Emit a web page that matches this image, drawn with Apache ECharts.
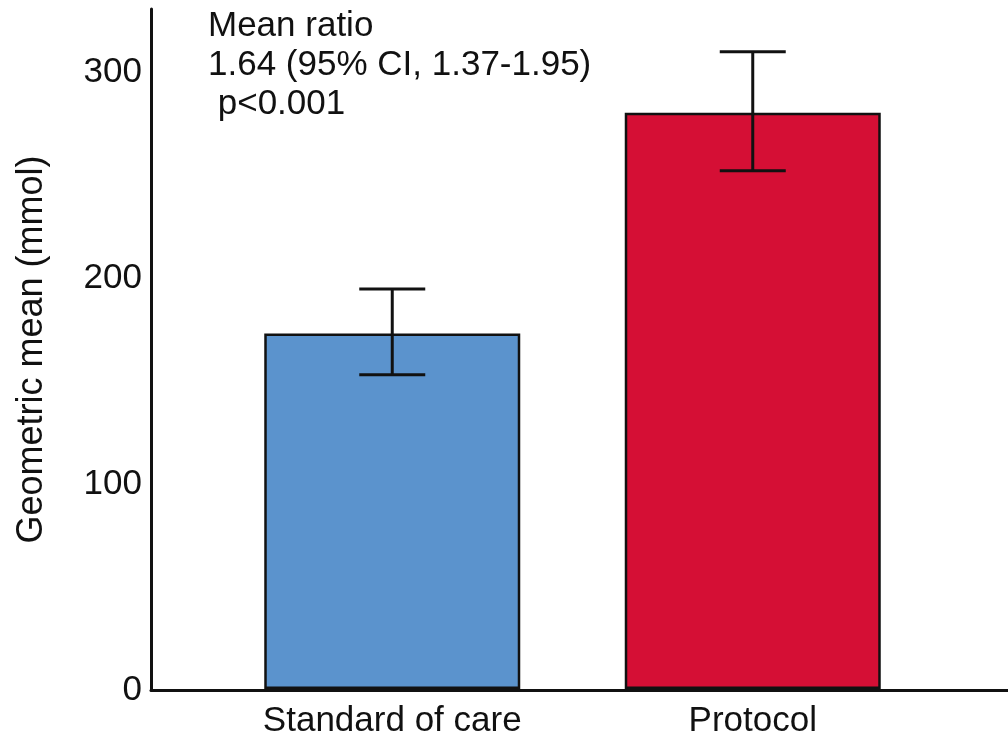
<html>
  <head>
    <meta charset="UTF-8" />
    <script src="https://cdn.jsdelivr.net/npm/echarts@6/dist/echarts.min.js"></script>
    <title>geometric mean</title>
    <style>
      html, body { margin: 0; padding: 0; background: #fff; }
      #main { width: 1008px; height: 739px; }
    </style>
  </head>
  <body>
    <div id="main"></div>
    <script>
      // data
      const groups = ['Standard of care', 'Protocol'];
      const means = [173, 280.5];
      const ciLow = [153, 252.3];
      const ciHigh = [194.7, 310.2];
      const barColors = ['#5b93cd', '#d50f35'];
      const noteLines = ['Mean ratio', '1.64 (95% CI, 1.37-1.95)', ' p<0.001'];

      const FONT = 'Liberation Sans, Arial, sans-serif';
      const yMax = 331;

      var chartDom = document.getElementById('main');
      var myChart = echarts.init(chartDom);

      const errData = groups.map((g, i) => [i, ciLow[i], ciHigh[i]]);

      var option = {
        animation: false,
        backgroundColor: '#fff',
        grid: [
          // data grid (bands placed where the bars sit)
          { left: 212, right: 75, top: 9, bottom: 49 },
          // frame grid, only for the axis lines
          { left: 151, right: 0, top: 9, bottom: 49 }
        ],
        xAxis: [
          {
            type: 'category',
            gridIndex: 0,
            data: groups,
            axisLine: { show: false },
            axisTick: { show: false },
            axisLabel: { color: '#111', fontSize: 35, fontFamily: FONT, margin: 15 }
          },
          {
            type: 'value',
            gridIndex: 1,
            min: 0,
            max: 1,
            axisLine: { show: true, onZero: false, lineStyle: { color: '#111', width: 3 } },
            axisTick: { show: false },
            axisLabel: { show: false },
            splitLine: { show: false }
          }
        ],
        yAxis: [
          {
            type: 'value',
            gridIndex: 0,
            min: 0,
            max: yMax,
            interval: 100,
            axisLine: { show: false },
            axisTick: { show: false },
            axisLabel: { show: false },
            splitLine: { show: false }
          },
          {
            type: 'value',
            gridIndex: 1,
            min: 0,
            max: yMax,
            interval: 100,
            name: 'Geometric mean (mmol)',
            nameLocation: 'middle',
            nameGap: 101,
            nameTextStyle: { color: '#111', fontSize: 36, fontFamily: FONT },
            axisLine: { show: true, lineStyle: { color: '#111', width: 3 } },
            axisTick: { show: false },
            axisLabel: {
              color: '#111',
              fontSize: 35,
              fontFamily: FONT,
              margin: 9,
              formatter: (v) => (v % 100 === 0 ? String(v) : '')
            },
            splitLine: { show: false }
          }
        ],
        graphic: noteLines.map((t, i) => ({
          type: 'text',
          left: 208,
          top: 9 + i * 39,
          style: { text: t, fill: '#111', font: '35px ' + FONT }
        })),
        series: [
          {
            type: 'bar',
            xAxisIndex: 0,
            yAxisIndex: 0,
            barWidth: 256,
            data: means.map((v, i) => ({
              value: v,
              itemStyle: { color: barColors[i], borderColor: '#111', borderWidth: 2.5 }
            })),
            z: 2
          },
          {
            type: 'custom',
            xAxisIndex: 0,
            yAxisIndex: 0,
            data: errData,
            z: 3,
            renderItem: function (params, api) {
              const x = api.value(0);
              const lo = api.coord([x, api.value(1)]);
              const hi = api.coord([x, api.value(2)]);
              const half = 33;
              const style = { stroke: '#111', lineWidth: 3 };
              return {
                type: 'group',
                children: [
                  { type: 'line', shape: { x1: hi[0], y1: hi[1], x2: lo[0], y2: lo[1] }, style: style },
                  { type: 'line', shape: { x1: hi[0] - half, y1: hi[1], x2: hi[0] + half, y2: hi[1] }, style: style },
                  { type: 'line', shape: { x1: lo[0] - half, y1: lo[1], x2: lo[0] + half, y2: lo[1] }, style: style }
                ]
              };
            }
          }
        ]
      };
      myChart.setOption(option);
    </script>
  </body>
</html>
